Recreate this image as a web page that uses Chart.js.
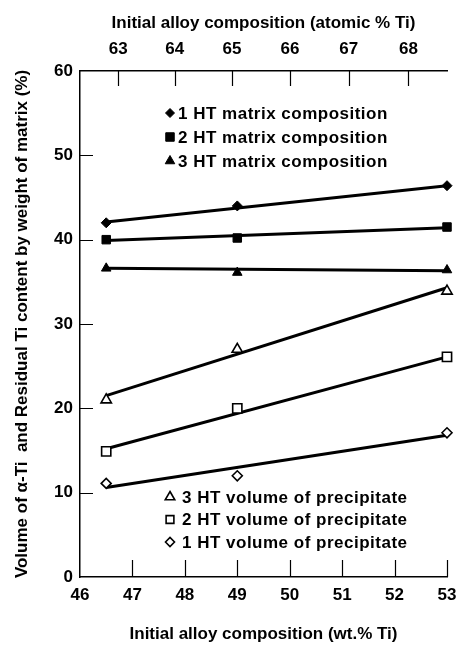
<!DOCTYPE html>
<html>
<head>
<meta charset="utf-8">
<title>Ti content vs initial alloy composition</title>
<script src="https://cdn.jsdelivr.net/npm/chart.js@4.4.1/dist/chart.umd.min.js"></script>
<style>
  html, body { margin: 0; padding: 0; background: #fff; }
  canvas { display: block; }
</style>
</head>
<body>
<canvas id="tiChart" width="466" height="648"></canvas>
<script>
// alloy compositions where samples were taken (wt.% Ti)
const compositionWt = [46.5, 49, 53];

// matrix composition after each heat treatment (wt.% Ti)
const matrix1HT = [42, 44, 46.4];
const matrix2HT = [40, 40.2, 41.5];
const matrix3HT = [36.6, 36.1, 36.4];

// volume of alpha-Ti precipitate (%)
const precip3HT = [21, 27, 33.9];
const precip2HT = [14.9, 20, 26.1];
const precip1HT = [11.1, 12, 17.1];

// straight fit lines, start and end value of each (at 46.5 and 53 wt.%)
const fitEnds = [46.5, 53];
const matrix1HTFit = [42.1, 46.4];
const matrix2HTFit = [39.9, 41.4];
const matrix3HTFit = [36.6, 36.3];
const precip3HTFit = [21.5, 34.3];
const precip2HTFit = [15.2, 26.1];
const precip1HTFit = [10.6, 16.8];

// axis ticks
const wtTicks = [46, 47, 48, 49, 50, 51, 52, 53];
const atomicTicks = [63, 64, 65, 66, 67, 68];
const yTicks = [0, 10, 20, 30, 40, 50, 60];

// Ti-Nb: atomic % Ti -> wt.% Ti, used to place the top axis ticks
const M_TI = 47.867, M_NB = 92.906;
function atomicToWt(at) {
  return 100 * at * M_TI / (at * M_TI + (100 - at) * M_NB);
}

const FONT = "'Liberation Sans', Arial, Helvetica, sans-serif";

function points(ys) {
  return ys.map((y, i) => ({ x: compositionWt[i], y: y }));
}
function fitLine(ends) {
  return ends.map((y, i) => ({ x: fitEnds[i], y: y }));
}

function markerSet(label, ys, style, radius, filled) {
  return {
    type: "scatter",
    label: label,
    data: points(ys),
    showLine: false,
    pointStyle: style,
    pointRadius: radius,
    pointBorderWidth: filled ? 1 : 1.6,
    pointBorderColor: "#000",
    pointBackgroundColor: filled ? "#000" : "#fff",
    clip: false,
    order: 0,
  };
}
function lineSet(ends) {
  return {
    type: "line",
    data: fitLine(ends),
    borderColor: "#000",
    borderWidth: 3,
    pointRadius: 0,
    fill: false,
    clip: false,
    order: 1,
  };
}

// legend blocks drawn inside the plot, each row points at a dataset
const upperLegend = [0, 1, 2];
const lowerLegend = [3, 4, 5];

const insideLegend = {
  id: "insideLegend",
  afterDatasetsDraw(chart) {
    const { ctx, chartArea } = chart;
    const drawBlock = (rows, top, gap, textX) => {
      rows.forEach((di, r) => {
        const ds = chart.data.datasets[di];
        const y = top + r * gap;
        const x = chartArea.left + 90;
        ctx.save();
        ctx.fillStyle = ds.pointBackgroundColor;
        ctx.strokeStyle = "#000";
        ctx.lineWidth = ds.pointBorderWidth;
        Chart.helpers.drawPoint(ctx, {
          pointStyle: ds.pointStyle,
          radius: ds.legendRadius,
          borderWidth: ds.pointBorderWidth,
          rotation: 0,
        }, x, y);
        ctx.fillStyle = "#000";
        ctx.font = "bold 17px " + FONT;
        ctx.letterSpacing = "0.5px";
        ctx.textAlign = "left";
        ctx.textBaseline = "middle";
        ctx.fillText(ds.label, chartArea.left + textX, y + 1);
        ctx.restore();
      });
    };
    drawBlock(upperLegend, chartArea.top + 42, 24, 98);
    drawBlock(lowerLegend, chartArea.top + 426, 22.5, 102);
  },
};

// tick marks pointing into the plot
const innerTicks = {
  id: "innerTicks",
  afterDraw(chart) {
    const { ctx, chartArea, scales } = chart;
    ctx.save();
    ctx.strokeStyle = "#000";
    ctx.lineWidth = 1.2;
    ctx.beginPath();
    wtTicks.slice(1).forEach((v) => {
      const px = Math.round(scales.x.getPixelForValue(v)) + 0.5;
      ctx.moveTo(px, chartArea.bottom);
      ctx.lineTo(px, chartArea.bottom - 17);
    });
    atomicTicks.forEach((a) => {
      const px = Math.round(scales.x2.getPixelForValue(atomicToWt(a))) + 0.5;
      ctx.moveTo(px, chartArea.top);
      ctx.lineTo(px, chartArea.top + 15);
    });
    yTicks.slice(1, -1).forEach((v) => {
      const py = Math.round(scales.y.getPixelForValue(v)) + 0.5;
      ctx.moveTo(chartArea.left, py);
      ctx.lineTo(chartArea.left + 13, py);
    });
    ctx.stroke();
    ctx.restore();
  },
};

const datasets = [
  markerSet("1 HT matrix composition", matrix1HT, "rectRot", 5, true),
  markerSet("2 HT matrix composition", matrix2HT, "rect", 6, true),
  markerSet("3 HT matrix composition", matrix3HT, "triangle", 5.5, true),
  markerSet("3 HT volume of precipitate", precip3HT, "triangle", 6, false),
  markerSet("2 HT volume of precipitate", precip2HT, "rect", 6.5, false),
  markerSet("1 HT volume of precipitate", precip1HT, "rectRot", 5, false),
  lineSet(matrix1HTFit),
  lineSet(matrix2HTFit),
  lineSet(matrix3HTFit),
  lineSet(precip3HTFit),
  lineSet(precip2HTFit),
  lineSet(precip1HTFit),
];
// legend symbols are a little smaller than the plotted ones
[4.5, 6, 5.5, 5.5, 5.5, 4.5].forEach((r, i) => { datasets[i].legendRadius = r; });

const tickFont = { family: FONT, size: 17, weight: "bold" };
const titleFont = { family: FONT, size: 17, weight: "bold" };
const axisBorder = { display: true, color: "#000", width: 1.5 };

new Chart(document.getElementById("tiChart").getContext("2d"), {
  type: "scatter",
  data: { datasets: datasets },
  options: {
    responsive: false,
    animation: false,
    events: [],
    devicePixelRatio: 1,
    layout: { padding: { left: 0, right: 19, top: 0, bottom: 0 } },
    plugins: {
      legend: { display: false },
      tooltip: { enabled: false },
    },
    scales: {
      x: {
        type: "linear",
        position: "bottom",
        min: 46,
        max: 53,
        afterBuildTicks: (axis) => { axis.ticks = wtTicks.map((v) => ({ value: v })); },
        afterFit: (scale) => { scale.height = 71; },
        border: axisBorder,
        grid: { drawOnChartArea: false, drawTicks: false },
        ticks: { color: "#000", font: tickFont, padding: 8, maxRotation: 0, autoSkip: false },
        title: {
          display: true,
          text: "Initial alloy composition (wt.% Ti)",
          color: "#000",
          font: titleFont,
          padding: { top: 0, bottom: 3 },
        },
      },
      x2: {
        type: "linear",
        position: "top",
        min: 46,
        max: 53,
        afterBuildTicks: (axis) => {
          axis.ticks = atomicTicks.map((a) => ({ value: atomicToWt(a) }));
        },
        afterFit: (scale) => { scale.height = 71; },
        border: axisBorder,
        grid: { drawOnChartArea: false, drawTicks: false },
        ticks: {
          color: "#000",
          font: tickFont,
          padding: 11,
          maxRotation: 0,
          autoSkip: false,
          callback: (v, i) => atomicTicks[i],
        },
        title: {
          display: true,
          text: "Initial alloy composition (atomic % Ti)",
          color: "#000",
          font: titleFont,
          padding: { top: 13, bottom: 0 },
        },
      },
      y: {
        type: "linear",
        position: "left",
        min: 0,
        max: 60,
        afterBuildTicks: (axis) => { axis.ticks = yTicks.map((v) => ({ value: v })); },
        afterFit: (scale) => { scale.width = 80; },
        border: axisBorder,
        grid: { drawOnChartArea: false, drawTicks: false },
        ticks: { color: "#000", font: tickFont, padding: 7 },
        title: {
          display: true,
          text: "Volume of α-Ti  and Residual Ti content by weight of matrix (%)",
          color: "#000",
          font: titleFont,
          padding: { top: 12, bottom: 0 },
        },
      },
    },
  },
  plugins: [insideLegend, innerTicks],
});
</script>
</body>
</html>
